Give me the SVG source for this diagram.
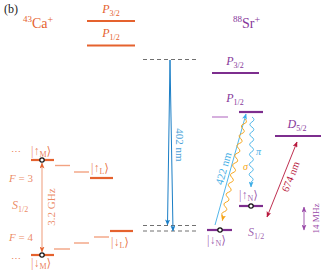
<svg xmlns="http://www.w3.org/2000/svg" width="323" height="275" viewBox="0 0 323 275">
<style>
text{font-family:"Liberation Serif","DejaVu Serif",serif;}
.ca{fill:#e5622e}
.sr{fill:#86379a}
.it{font-style:italic}
.lvca{stroke:#e5622e;stroke-width:2.2;fill:none}
.lvcal{stroke:#f2a282;stroke-width:1.4;fill:none}
.lvsr{stroke:#7d2e8e;stroke-width:2.2;fill:none}
.lvsrl{stroke:#c48fd0;stroke-width:1.4;fill:none}
.dash{stroke:#707070;stroke-width:1;stroke-dasharray:4 3;fill:none}
.dot{fill:#fff;stroke:#111;stroke-width:1.2}
.ket{font-size:12px}
</style>
<defs>
<marker id="aBlue" markerUnits="userSpaceOnUse" markerWidth="6" markerHeight="5" refX="5.5" refY="2.5" orient="auto"><path d="M0,0 L6,2.5 L0,5 L1.5,2.5z" fill="#1a7ec6"/></marker>
<marker id="aLb" markerUnits="userSpaceOnUse" markerWidth="6" markerHeight="5" refX="5.5" refY="2.5" orient="auto"><path d="M0,0 L6,2.5 L0,5 L1.5,2.5z" fill="#3eaee6"/></marker>
<marker id="aOr" markerUnits="userSpaceOnUse" markerWidth="6" markerHeight="5" refX="5.5" refY="2.5" orient="auto"><path d="M0,0 L6,2.5 L0,5 L1.5,2.5z" fill="#f5a51a"/></marker>
<marker id="aRed" markerUnits="userSpaceOnUse" markerWidth="6" markerHeight="5" refX="5.5" refY="2.5" orient="auto-start-reverse"><path d="M0,0 L6,2.5 L0,5 L1.5,2.5z" fill="#b8173c"/></marker>
<marker id="aPu" markerUnits="userSpaceOnUse" markerWidth="6" markerHeight="5" refX="5.5" refY="2.5" orient="auto-start-reverse"><path d="M0,0 L6,2.5 L0,5 L1.5,2.5z" fill="#9a4aa8"/></marker>
<marker id="aCa" markerUnits="userSpaceOnUse" markerWidth="6" markerHeight="5" refX="5.5" refY="2.5" orient="auto-start-reverse"><path d="M0,0 L6,2.5 L0,5 L1.5,2.5z" fill="#e5622e"/></marker>
</defs>

<text x="4" y="13" font-size="12" fill="#222">(b)</text>

<g id="ca-title"><text x="23" y="28" font-size="14" class="ca"><tspan font-size="9" dy="-6">43</tspan><tspan dy="6">Ca</tspan><tspan font-size="10" dy="-5">+</tspan></text></g>
<g id="ca-P32"><line x1="87" y1="21" x2="135" y2="21" class="lvca"/><text x="111" y="13" font-size="12" class="ca" text-anchor="middle"><tspan class="it">P</tspan><tspan font-size="8" dy="3">3/2</tspan></text></g>
<g id="ca-P12"><line x1="87" y1="45.5" x2="135" y2="45.5" class="lvca"/><text x="111" y="37" font-size="12" class="ca" text-anchor="middle"><tspan class="it">P</tspan><tspan font-size="8" dy="3">1/2</tspan></text></g>

<g id="ca-labels">
<text x="9" y="182" font-size="11" class="ca" fill-opacity="0.75"><tspan class="it">F</tspan> = 3</text>
<text x="12" y="209" font-size="12" class="ca" fill-opacity="0.75"><tspan class="it">S</tspan><tspan font-size="8" dy="3">1/2</tspan></text>
<text x="9" y="241" font-size="11" class="ca" fill-opacity="0.75"><tspan class="it">F</tspan> = 4</text>
</g>

<g id="ca-upM"><line x1="31" y1="160" x2="54" y2="160" class="lvca"/><circle cx="42" cy="160" r="2.2" class="dot"/><text x="11" y="155" font-size="10" class="ca" fill-opacity="0.8">⋯</text><text x="31" y="155" class="ca ket" fill-opacity="0.8">|↑<tspan font-size="8" dy="2">M</tspan><tspan dy="-2">⟩</tspan></text></g>
<g id="ca-downM"><line x1="31" y1="255" x2="54" y2="255" class="lvca"/><circle cx="42" cy="255" r="2.2" class="dot"/><text x="11" y="262" font-size="10" class="ca" fill-opacity="0.8">⋯</text><text x="31" y="267" class="ca ket" fill-opacity="0.8">|↓<tspan font-size="8" dy="2">M</tspan><tspan dy="-2">⟩</tspan></text></g>
<g id="ca-sub-up"><line x1="55" y1="165.5" x2="70" y2="165.5" class="lvcal"/><line x1="74" y1="172" x2="89" y2="172" class="lvcal"/></g>
<g id="ca-upL"><line x1="90" y1="178" x2="113" y2="178" class="lvca"/><text x="91" y="172" class="ca ket" fill-opacity="0.85">|↑<tspan font-size="8" dy="2">L</tspan><tspan dy="-2">⟩</tspan></text></g>
<g id="ca-sub-down"><line x1="54" y1="249" x2="70" y2="249" class="lvcal"/><line x1="74" y1="243" x2="89" y2="243" class="lvcal"/><line x1="94" y1="237" x2="109" y2="237" class="lvcal"/></g>
<g id="ca-downL"><line x1="110" y1="231" x2="133" y2="231" class="lvca"/><text x="111" y="246" class="ca ket" fill-opacity="0.85">|↓<tspan font-size="8" dy="2">L</tspan><tspan dy="-2">⟩</tspan></text></g>

<g id="virtual">
<line x1="143" y1="59.5" x2="197" y2="59.5" class="dash"/>
<line x1="143" y1="225.5" x2="197" y2="225.5" class="dash"/>
<line x1="143" y1="231" x2="197" y2="231" class="dash"/>
</g>

<g id="sr-title"><text x="233" y="28" font-size="14" class="sr"><tspan font-size="9" dy="-6">88</tspan><tspan dy="6">Sr</tspan><tspan font-size="10" dy="-5">+</tspan></text></g>
<g id="sr-P32"><line x1="212" y1="73" x2="259" y2="73" class="lvsr"/><text x="235" y="65" font-size="12" class="sr" text-anchor="middle"><tspan class="it">P</tspan><tspan font-size="8" dy="3">3/2</tspan></text></g>
<g id="sr-P12"><line x1="212" y1="117" x2="228" y2="117" class="lvsrl"/><line x1="239" y1="112" x2="263" y2="112" class="lvsr"/><text x="235" y="102" font-size="12" class="sr" text-anchor="middle"><tspan class="it">P</tspan><tspan font-size="8" dy="3">1/2</tspan></text></g>
<g id="sr-D52"><line x1="275" y1="136" x2="321" y2="136" class="lvsr"/><text x="297" y="128" font-size="12" class="sr" text-anchor="middle"><tspan class="it">D</tspan><tspan font-size="8" dy="3">5/2</tspan></text></g>
<g id="sr-upN"><line x1="239" y1="206" x2="263" y2="206" class="lvsr"/><circle cx="251" cy="206" r="2.2" class="dot"/><text x="239" y="199" class="sr ket" fill-opacity="0.8">|↑<tspan font-size="8" dy="2">N</tspan><tspan dy="-2">⟩</tspan></text></g>
<g id="sr-downN"><line x1="207" y1="230" x2="232" y2="230" class="lvsr"/><circle cx="220" cy="230" r="2.2" class="dot"/><text x="207" y="244" class="sr ket" fill-opacity="0.8">|↓<tspan font-size="8" dy="2">N</tspan><tspan dy="-2">⟩</tspan></text></g>
<g id="sr-S12"><text x="248" y="236" font-size="12" class="sr" fill-opacity="0.8"><tspan class="it">S</tspan><tspan font-size="8" dy="3">1/2</tspan></text></g>

<g id="connectors">
<line x1="170" y1="60" x2="167.5" y2="225" stroke="#1a7ec6" stroke-width="1" marker-end="url(#aBlue)"/>
<line x1="170" y1="60" x2="173" y2="231" stroke="#1a7ec6" stroke-width="1" marker-end="url(#aBlue)"/>
<text transform="translate(176,145) rotate(90)" font-size="11" fill="#4a9fd8" text-anchor="middle">402 nm</text>

<line x1="42" y1="163" x2="42" y2="252" stroke="#e5622e" stroke-width="0.8" stroke-opacity="0.8" marker-start="url(#aCa)" marker-end="url(#aCa)"/>
<text transform="translate(55,207) rotate(-90)" font-size="11" class="ca" fill-opacity="0.75" text-anchor="middle">3.2 GHz</text>

<line x1="215" y1="225" x2="246" y2="114" stroke="#3eaee6" stroke-width="0.9" marker-end="url(#aLb)"/>
<text transform="translate(227,169.5) rotate(-74.4)" font-size="11" fill="#3eaee6" text-anchor="middle">422 nm</text>

<path transform="translate(245,119) rotate(102.6)" d="M0,0 q2.5,-4 5,0 t5,0 t5,0 t5,0 t5,0 t5,0 t5,0 t5,0 t5,0 t5,0 t5,0 t5,0 t5,0 t5,0 t5,0 t5,0 t5,0 t5,0 t5,0 t5,0 l4,0" fill="none" stroke="#f5a51a" stroke-width="0.9" marker-end="url(#aOr)"/>
<text x="243" y="170" font-size="10" fill="#f5a51a" class="it">σ</text>

<path transform="translate(252,117) rotate(90.8)" d="M0,0 q2.5,-4 5,0 t5,0 t5,0 t5,0 t5,0 t5,0 t5,0 t5,0 t5,0 t5,0 t5,0 t5,0 t5,0 l5,0" fill="none" stroke="#3eaee6" stroke-width="0.9" marker-end="url(#aLb)"/>
<text x="256" y="155" font-size="10" fill="#3eaee6" class="it">π</text>

<line x1="267" y1="217" x2="297" y2="142" stroke="#b8173c" stroke-width="0.9" marker-start="url(#aRed)" marker-end="url(#aRed)"/>
<text transform="translate(294,178) rotate(-68.2)" font-size="10.5" fill="#b8173c" text-anchor="middle">674 nm</text>

<line x1="304" y1="207" x2="304" y2="230" stroke="#9a4aa8" stroke-width="0.9" marker-start="url(#aPu)" marker-end="url(#aPu)"/>
<text transform="translate(319,218.5) rotate(-90)" font-size="9" fill="#9a4aa8" text-anchor="middle">14 MHz</text>
</g>
</svg>
